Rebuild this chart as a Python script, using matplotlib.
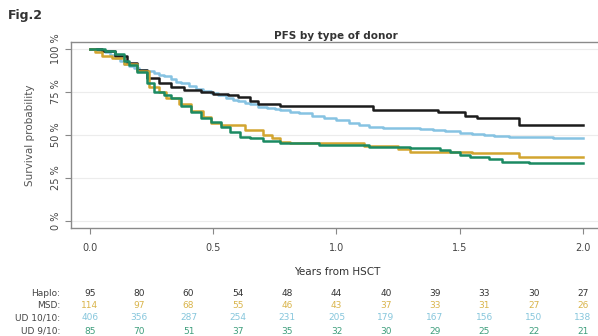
import matplotlib
matplotlib.use('Agg')
import matplotlib.pyplot as plt
import matplotlib.transforms as mtransforms

# Kaplan-Meier step points (years, survival %)
haplo_t = [0, 0.05, 0.10, 0.15, 0.19, 0.23, 0.28, 0.33, 0.38, 0.45, 0.50, 0.56, 0.60,
           0.65, 0.68, 0.77, 1.15, 1.41, 1.52, 1.57, 1.74, 2.0]
haplo_s = [100, 99, 96, 92, 88, 83, 80, 78, 76, 75, 74, 73, 72,
           70, 68, 67, 64.5, 63.4, 61, 60, 56, 56]

msd_t = [0, 0.02, 0.05, 0.09, 0.14, 0.19, 0.24, 0.28, 0.31, 0.36, 0.41, 0.46, 0.49,
         0.53, 0.63, 0.70, 0.74, 0.77, 0.81, 1.11, 1.25, 1.30, 1.55, 1.74, 2.0]
msd_s = [100, 98, 96, 95, 91, 87, 78, 75, 71.5, 68, 64, 60.5, 57,
         55.8, 53, 50, 48, 46, 45.3, 43.6, 42, 40, 39.5, 37, 37]

ud10_t = [0, 0.02, 0.04, 0.06, 0.08, 0.10, 0.12, 0.14, 0.16, 0.18, 0.20, 0.23, 0.26,
          0.28, 0.30, 0.33, 0.35, 0.37, 0.40, 0.43, 0.46, 0.49, 0.52, 0.55, 0.58,
          0.60, 0.63, 0.65, 0.68, 0.72, 0.75, 0.77, 0.81, 0.85, 0.90, 0.95, 1.00,
          1.05, 1.09, 1.13, 1.19, 1.25, 1.30, 1.34, 1.39, 1.44, 1.50, 1.55, 1.60,
          1.64, 1.70, 1.76, 1.82, 1.88, 1.94, 2.0]
ud10_s = [100, 99.5, 99, 98, 96.5, 95, 93, 91.5, 90, 89, 88, 87, 86,
          85, 84, 82.5, 81, 80, 78.5, 77, 75.5, 74.4, 73, 71.5, 70.5,
          69.5, 68.5, 67.8, 66.5, 65.5, 65, 64.5, 63.5, 62.5, 61.2, 60, 58.5,
          57, 55.8, 54.7, 54.3, 54, 53.8, 53.5, 53, 52.3, 51.4, 50.5, 49.9,
          49.4, 49.1, 48.8, 48.6, 48.4, 48.3, 48.3]

ud9_t = [0, 0.06, 0.10, 0.14, 0.16, 0.19, 0.23, 0.26, 0.30, 0.33, 0.37, 0.41, 0.45,
         0.49, 0.53, 0.57, 0.61, 0.65, 0.70, 0.77, 0.93, 1.13, 1.30, 1.42, 1.46,
         1.50, 1.54, 1.62, 1.67, 1.78, 2.0]
ud9_s = [100, 99, 97, 93, 90.7, 86.6, 80, 75, 73, 71.5, 67, 63.4, 60,
         57.6, 54.5, 51.7, 49, 48.3, 46.5, 45.3, 44, 43, 42.5, 41.5, 40,
         38.5, 37, 36, 34.3, 33.5, 33.5]

# numbers at risk
risk_times = [0.0, 0.2, 0.4, 0.6, 0.8, 1.0, 1.2, 1.4, 1.6, 1.8, 2.0]
risk_haplo = [95, 80, 60, 54, 48, 44, 40, 39, 33, 30, 27]
risk_msd = [114, 97, 68, 55, 46, 43, 37, 33, 31, 27, 26]
risk_ud10 = [406, 356, 287, 254, 231, 205, 179, 167, 156, 150, 138]
risk_ud9 = [85, 70, 51, 37, 35, 32, 30, 29, 25, 22, 21]
group_names = ['Haplo', 'MSD', 'UD 10/10', 'UD 9/10']

line_cols = ['#1c1c1c', '#d2a530', '#86c3e2', '#1b8a62']
text_cols = ['#333333', '#d9b44a', '#86c6dc', '#3e9e7c']

fig = plt.figure(figsize=(5.98, 3.36), dpi=100)
ax = fig.add_axes([71/598, 1 - 228/336, 1 - 71/598, (228 - 42)/336])

for t, s, c in [(ud10_t, ud10_s, line_cols[2]), (haplo_t, haplo_s, line_cols[0]),
                (msd_t, msd_s, line_cols[1]), (ud9_t, ud9_s, line_cols[3])]:
    ax.step(t, s, where='post', color=c, lw=1.8)

ax.set_xlim(-0.077, 2.061)
ax.set_ylim(-4, 104)
ax.set_yticks([0, 25, 50, 75, 100])
ax.set_yticklabels(['0 %', '25 %', '50 %', '75 %', '100 %'], rotation=90, va='center')
ax.set_xticks([0.0, 0.5, 1.0, 1.5, 2.0])
ax.set_xticklabels(['0.0', '0.5', '1.0', '1.5', '2.0'])
ax.tick_params(axis='both', colors='#888888', labelcolor='#444444', labelsize=7, length=4)
ax.tick_params(axis='x', pad=7)
for y in [0, 25, 50, 75, 100]:
    ax.axhline(y, color='#ececec', lw=0.8, zorder=0)
ax.spines['right'].set_visible(False)
for sp in ['left', 'bottom', 'top']:
    ax.spines[sp].set_color('#8a8a8a')
    ax.spines[sp].set_linewidth(1.0)

ax.set_ylabel('Survival probability', fontsize=7.5, color='#555555', labelpad=11)
fig.text(337/598, 1 - 272/336, 'Years from HSCT', fontsize=7.5, color='#333333',
         ha='center', va='center')
fig.text(336/598, 1 - 36/336, 'PFS by type of donor', fontsize=7.5, fontweight='bold',
         color='#333333', ha='center', va='center')
fig.text(8/598, 1 - 16/336, 'Fig.2', fontsize=9, fontweight='bold', color='#333333',
         ha='left', va='center')

# risk table
trans = mtransforms.blended_transform_factory(ax.transData, fig.transFigure)
rows = [risk_haplo, risk_msd, risk_ud10, risk_ud9]
row_y = [293, 305, 318, 331]
for name, vals, yy, tc in zip(group_names, rows, row_y, text_cols):
    fig.text(60/598, 1 - yy/336, name + ':', fontsize=6.5, color='#444444',
             ha='right', va='center')
    for t, v in zip(risk_times, vals):
        ax.text(t, 1 - yy/336, str(v), transform=trans, fontsize=6.5, color=tc,
                ha='center', va='center', clip_on=False)

fig.savefig('out.png', dpi=100)
